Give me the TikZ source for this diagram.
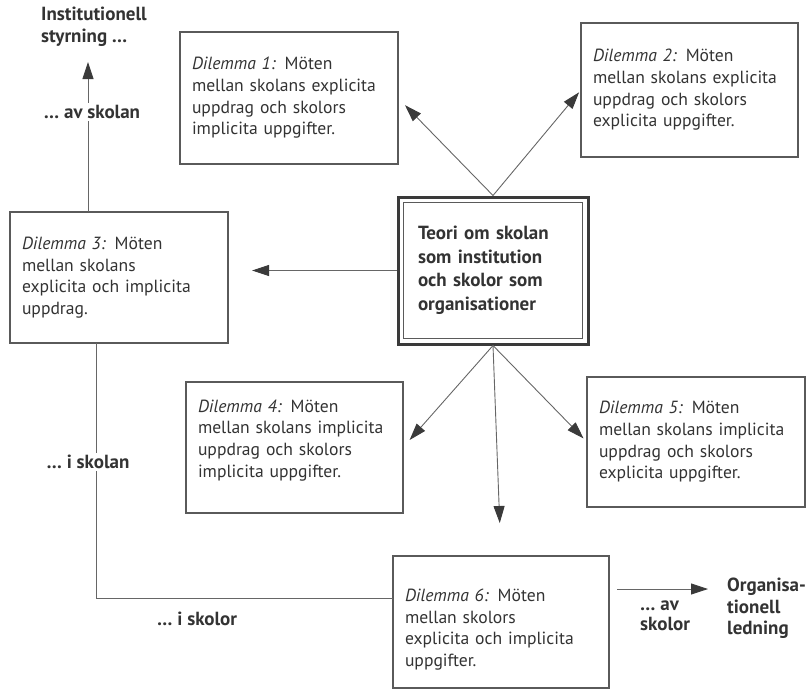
\documentclass[tikz,border=0pt]{standalone}
\usepackage{fontspec}
\setmainfont{PT Sans}
\usetikzlibrary{arrows.meta,calc}
\definecolor{boxgray}{HTML}{5A5A5A}
\definecolor{linegray}{HTML}{666666}
\definecolor{tipgray}{HTML}{3A3A3A}
\definecolor{txt}{HTML}{333333}
\begin{document}
\begin{tikzpicture}[x=1pt,y=-1pt, font=\fontsize{17.6}{21.7}\selectfont, text=txt,
 dbox/.style={draw=boxgray, line width=1.1pt, inner ysep=0pt, inner xsep=12pt, align=left, outer sep=0pt},
 arr/.style={draw=linegray, line width=0.9pt, -{Triangle[length=17pt,width=11pt,color=tipgray]}},
 plainline/.style={draw=linegray, line width=0.9pt},
 lab/.style={font=\fontsize{19}{21.5}\selectfont\bfseries, align=left, inner sep=2pt},
]
\useasboundingbox (0,0) rectangle (810,689);

% dilemma boxes
\node[dbox, text width=194pt, minimum height=132pt] (d1) at (289,98)
  {\textit{Dilemma 1:} Möten\\mellan skolans explicita\\uppdrag och skolors\\implicita uppgifter.};
\node[dbox, text width=193pt, minimum height=134pt] (d2) at (689.5,90)
  {\textit{Dilemma 2:} Möten\\mellan skolans explicita\\uppdrag och skolors\\explicita uppgifter.};
\node[dbox, text width=194pt, minimum height=131pt] (d3) at (119,277.5)
  {\textit{Dilemma 3:} Möten\\mellan skolans\\explicita och implicita\\uppdrag.};
\node[dbox, text width=193pt, minimum height=131pt] (d4) at (294.5,447.5)
  {\textit{Dilemma 4:} Möten\\mellan skolans implicita\\uppdrag och skolors\\implicita uppgifter.\rule[-18pt]{0pt}{0pt}};
\node[dbox, text width=194pt, minimum height=130pt] (d5) at (696,442)
  {\textit{Dilemma 5:} Möten\\mellan skolans implicita\\uppdrag och skolors\\explicita uppgifter.};
\node[dbox, text width=192pt, minimum height=132pt] (d6) at (501,622)
  {\rule{0pt}{28pt}\textit{Dilemma 6:} Möten\\mellan skolors\\explicita och implicita\\uppgifter.};

% centre box
\node[draw=tipgray, line width=3pt, text width=150pt, inner xsep=20pt, inner ysep=0pt,
      minimum height=147pt, align=left, font=\fontsize{19}{23.5}\selectfont\bfseries] (c) at (493,270.5)
  {Teori om skolan\\som institution\\och skolor som\\organisationer};
\draw[boxgray, line width=0.8pt] ($(c.north west)+(7,7)$) rectangle ($(c.south east)+(-7,-7)$);

% arrows from centre
\draw[arr, shorten >=10pt] (c.north) -- (d1.east);
\draw[arr, shorten >=3pt] (c.north) -- (d2.west);
\draw[arr, shorten >=24pt] (c.west) -- (c.west -| d3.east);
\draw[arr, shorten >=10pt] (c.south) -- (d4.east);
\draw[arr, shorten >=5pt] (c.south) -- (d5.west);
\draw[arr, shorten >=33pt] (c.south) -- (d6.north);

% left side
\node[lab, anchor=north west] (inst) at (39,5) {Institutionell\\styrning …};
\coordinate (upx) at (88,62);
\draw[arr] (d3.north -| upx) -- (upx);
\node[lab, fill=white] (avskolan) at (92,112) {… av skolan};

\coordinate (lp) at (96,598);
\draw[plainline] (d3.south -| lp) -- (lp) -- (lp -| d6.west);
\node[lab, fill=white] (iskolan) at (88,462) {… i skolan};
\node[lab, anchor=west] (iskolor) at (155,619) {… i skolor};

% right side
\node[lab, anchor=north west] (org) at (725,576) {Organisa-\\tionell\\ledning};
\node[lab, anchor=north west, font=\fontsize{19}{20}\selectfont\bfseries] (avskolor) at (638,599) {… av\\skolor};
\coordinate (ar) at (617,589);
\draw[arr, shorten >=17pt] (ar) -- (ar -| org.west);
\end{tikzpicture}
\end{document}
